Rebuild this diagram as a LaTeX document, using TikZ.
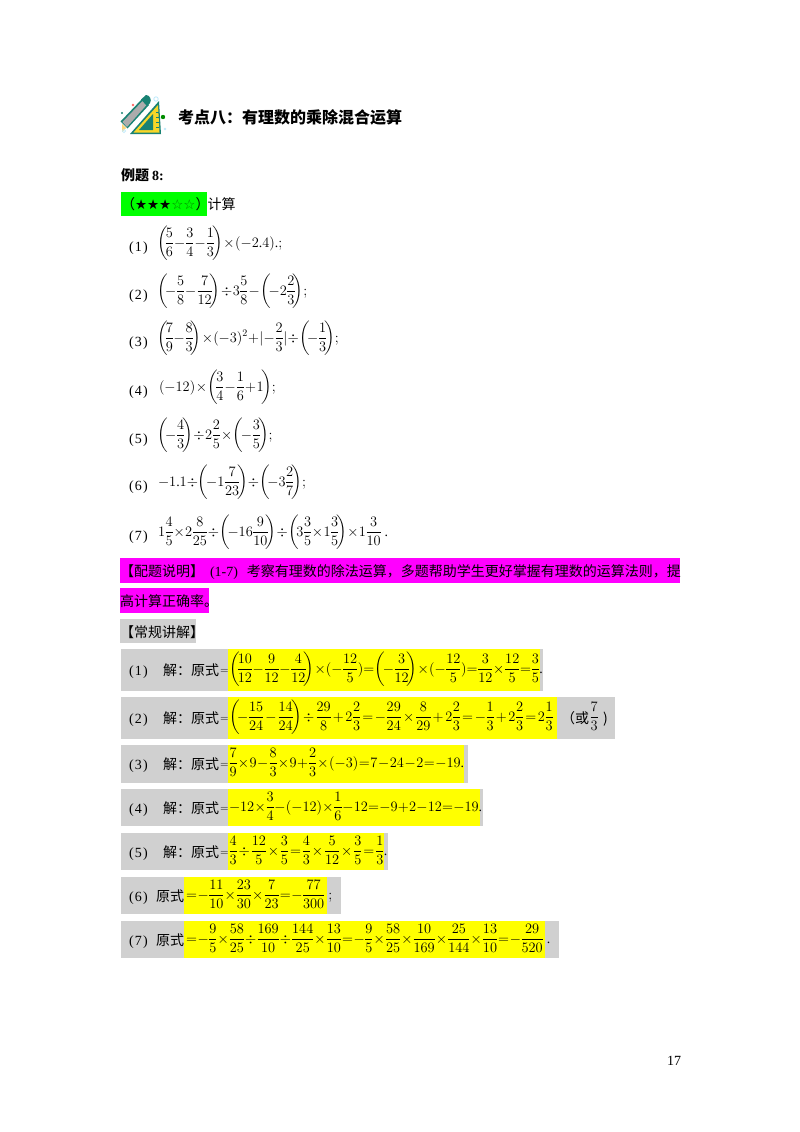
\documentclass[tikz,border=0pt]{standalone}
\usepackage{amsmath}
\usepackage{fontspec}
\setmainfont{Liberation Serif}
\newfontfamily\cjk{Noto Sans CJK SC}
\newfontfamily\djv{DejaVu Sans}
\newcommand{\mathchr}[2]{\begingroup\lccode`~=`#1\lowercase{\endgroup\def~{#2}}\mathcode`#1="8000\relax}
\mathchr{0}{\text{\char48\relax}}
\mathchr{1}{\text{\char49\relax}}
\mathchr{2}{\text{\char50\relax}}
\mathchr{3}{\text{\char51\relax}}
\mathchr{4}{\text{\char52\relax}}
\mathchr{5}{\text{\char53\relax}}
\mathchr{6}{\text{\char54\relax}}
\mathchr{7}{\text{\char55\relax}}
\mathchr{8}{\text{\char56\relax}}
\mathchr{9}{\text{\char57\relax}}
\mathchr{.}{\text{\char46\relax}}
\mathchr{;}{\text{\char59\relax}}
\mathchr{(}{\mathopen{\text{\char40\relax}}}
\mathchr{)}{\mathclose{\text{\char41\relax}}}
\newcommand{\fr}[2]{{\displaystyle\frac{#1}{#2}}}
\newcommand{\lp}{\left(\mkern-3mu}
\newcommand{\rp}{\mkern-3mu\right)}
\newcommand{\mth}[2][0.7mu]{$\displaystyle\nulldelimiterspace=0.6pt\thinmuskip=0mu\medmuskip=#1\thickmuskip=#1 #2$}
\newcommand{\lab}[1]{(\hspace{1.2pt}#1\hspace{1.2pt})}
\newcommand{\fc}{\char"FF1A\relax}
\newcommand{\fk}{\char"FF0C\relax}
\definecolor{greybar}{RGB}{208,208,208}
\definecolor{tealfill}{RGB}{24,130,115}
\definecolor{yellowbar}{RGB}{255,255,0}
\definecolor{magentabar}{RGB}{255,0,255}
\definecolor{greenbar}{RGB}{0,255,0}
\definecolor{yicon}{RGB}{248,214,40}
\tikzset{
  x=1pt,y=-1pt,
  txt/.style={inner sep=0pt,outer sep=0pt,anchor=base west,font=\fontsize{14}{16}\selectfont},
  mathtxt/.style={txt,font=\fontsize{13.8}{16}\selectfont},
  eqsign/.style={txt,font=\fontsize{11}{13}\selectfont},
  cjktxt/.style={txt,font=\fontsize{14}{16}\selectfont\cjk},
}
\begin{document}
\begin{tikzpicture}
\useasboundingbox (0,0) rectangle (800,1132);
\fill[white] (0,0) rectangle (800,1132);
% icon
\fill[tealfill] (130,134) -- (159,101) -- (161,134) -- cycle;
\fill[yicon] (133.5,132.5) -- (158,105) -- (159.5,132.5) -- cycle;
\fill[tealfill] (139,130) -- (153,114) -- (153,130) -- cycle;
\draw[tealfill,line width=0.4pt] (156,112) -- (159,112) (156,117) -- (159,117) (156,122) -- (159,122) (156,127) -- (159,127);
\fill[tealfill] (120.5,121.5) -- (142,99) -- (149,105) -- (127.5,128.5) -- cycle;
\fill[gray!65] (122.5,122) -- (142.5,101) -- (146.5,105) -- (127,127) -- cycle;
\fill[yellow!40!orange!50] (122,124) -- (126,128) -- (122,132) -- cycle;
\fill[tealfill] (141,99.5) -- (146,95) .. controls (150,95) and (152,100) .. (150,103) -- (147,106) -- cycle;
\fill[red!60] (133,105) circle (1.4);
\fill[tealfill] (122,113) circle (1.2);
\fill[green!55!black] (163,117) circle (2.2);
\fill[cyan!25] (165,129) circle (1.3);
\draw[cyan!25,line width=0.8pt] (156,99) circle (2.2) (124,131) circle (1.6);
% title
\node[txt,font=\fontsize{16}{18}\selectfont\cjk\bfseries] (title) at (178,123) {考点八\fc 有理数的乘除混合运算};
\node[txt,font=\fontsize{14}{16}\selectfont\cjk\bfseries] (ex) at (121,180) {例题 {\rmfamily\bfseries 8:}};
% stars
\fill[greenbar] (121,192) rectangle (207,216);
\node[cjktxt] (stars) at (121,209) {（{\djv\fontsize{13.5}{14}\selectfont ★★★{\color{green!50!black}☆☆}}）\hspace{-2pt}计算};
% problems
\node[txt] (p1) at (129,251) {\lab{1}};
\node[mathtxt] (m1) at (157,247) {\mth{\lp\fr{5}{6}-\fr{3}{4}-\fr{1}{3}\rp\times(-2.4)\,.;}};
\node[txt] (p2) at (129,299) {\lab{2}};
\node[mathtxt] (m2) at (157,295) {\mth{\lp-\fr{5}{8}-\fr{7}{12}\rp\div 3\fr{5}{8}-\lp-2\fr{2}{3}\rp;}};
\node[txt] (p3) at (129,346) {\lab{3}};
\node[mathtxt] (m3) at (157,342) {\mth[0.3mu]{\lp\fr{7}{9}-\fr{8}{3}\rp\times(-3)^2+|-\fr{2}{3}|\div\lp-\fr{1}{3}\rp;}};
\node[txt] (p4) at (129,395) {\lab{4}};
\node[mathtxt] (m4) at (159,391) {\mth{(-12)\times\lp\fr{3}{4}-\fr{1}{6}+1\rp\,;}};
\node[txt] (p5) at (129,443) {\lab{5}};
\node[mathtxt] (m5) at (157,439) {\mth{\lp-\fr{4}{3}\rp\div 2\fr{2}{5}\times\lp-\fr{3}{5}\rp\,;}};
\node[txt] (p6) at (129,490) {\lab{6}};
\node[mathtxt] (m6) at (158,486) {\mth[0mu]{-1.1\div\lp-1\fr{7}{23}\rp\div\lp-3\fr{2}{7}\rp;}};
\node[txt] (p7) at (129,540) {\lab{7}};
\node[mathtxt] (m7) at (158,536) {\mth[0.4mu]{1\fr{4}{5}\times 2\fr{8}{25}\div\lp-16\fr{9}{10}\rp\div\lp 3\fr{3}{5}\times 1\fr{3}{5}\rp\times 1\fr{3}{10}\ .}};
% notes
\fill[magentabar] (120,558) rectangle (680,583);
\fill[magentabar] (120,588) rectangle (209,613);
\fill[greybar] (120,619) rectangle (196,643);
\node[cjktxt] (n1) at (120,576) {【配题说明】\hspace{6pt}{\rmfamily(1-7)}\hspace{9pt}考察有理数的除法运算\fk 多题帮助学生更好掌握有理数的运算法则\fk 提};
\node[cjktxt] (n2) at (120,606) {高计算正确率。};
\node[cjktxt] (n3) at (120,637) {【常规讲解】};
% answer boxes
\fill[greybar] (121,649) rectangle (543,691);
\fill[yellowbar] (228,649) rectangle (540,691);
\fill[greybar] (121,697) rectangle (615,739);
\fill[yellowbar] (228,697) rectangle (557,739);
\fill[greybar] (121,745) rectangle (468,783);
\fill[yellowbar] (228,745) rectangle (464,783);
\fill[greybar] (121,789) rectangle (483,826);
\fill[yellowbar] (228,789) rectangle (480,826);
\fill[greybar] (121,833) rectangle (388,870);
\fill[yellowbar] (228,833) rectangle (384,870);
\fill[greybar] (121,877) rectangle (341,914);
\fill[yellowbar] (184,877) rectangle (327,914);
\fill[greybar] (121,921) rectangle (559,958);
\fill[yellowbar] (184,921) rectangle (545,958);
% answers
\node[txt] (a1n) at (129,675) {\lab{1}};
\node[cjktxt] (a1) at (163,675) {解\fc 原式};
\node[eqsign] (a1q) at (220,673) {\mth{=}};
\node[mathtxt] (e1) at (229,673) {\mth[0.2mu]{\lp\fr{10}{12}-\fr{9}{12}-\fr{4}{12}\rp\times(-\fr{12}{5})=\lp-\fr{3}{12}\rp\times(-\fr{12}{5})=\fr{3}{12}\times\fr{12}{5}=\fr{3}{5}\,.}};
\node[txt] (a2n) at (129,723) {\lab{2}};
\node[cjktxt] (a2) at (163,723) {解\fc 原式};
\node[eqsign] (a2q) at (220,721) {\mth{=}};
\node[mathtxt] (e2) at (229,721) {\mth[2mu]{\lp-\fr{15}{24}-\fr{14}{24}\rp\div\fr{29}{8}+2\fr{2}{3}=-\fr{29}{24}\times\fr{8}{29}+2\fr{2}{3}=-\fr{1}{3}+2\fr{2}{3}=2\fr{1}{3}}};
\node[cjktxt] (a2b) at (561,723) {（或};
\node[mathtxt] (a2c) at (590,721) {\mth{\fr{7}{3}}};
\node[cjktxt] (a2d) at (603,723) {)};
\node[txt] (a3n) at (129,769) {\lab{3}};
\node[cjktxt] (a3) at (163,769) {解\fc 原式};
\node[eqsign] (a3q) at (220,767) {\mth{=}};
\node[mathtxt] (e3) at (229,767) {\mth{\fr{7}{9}\times 9-\fr{8}{3}\times 9+\fr{2}{3}\times(-3)=7-24-2=-19\,.}};
\node[txt] (a4n) at (129,813) {\lab{4}};
\node[cjktxt] (a4) at (163,813) {解\fc 原式};
\node[eqsign] (a4q) at (220,811) {\mth{=}};
\node[mathtxt] (e4) at (229,811) {\mth[0.3mu]{-12\times\fr{3}{4}-(-12)\times\fr{1}{6}-12=-9+2-12=-19\,.}};
\node[txt] (a5n) at (129,857) {\lab{5}};
\node[cjktxt] (a5) at (163,857) {解\fc 原式};
\node[eqsign] (a5q) at (220,855) {\mth{=}};
\node[mathtxt] (e5) at (229,855) {\mth[1.7mu]{\fr{4}{3}\div\fr{12}{5}\times\fr{3}{5}=\fr{4}{3}\times\fr{5}{12}\times\fr{3}{5}=\fr{1}{3}\,.}};
\node[txt] (a6n) at (129,901) {\lab{6}};
\node[cjktxt] (a6) at (156,901) {原式};
\node[mathtxt] (e6) at (186,899) {\mth{=-\fr{11}{10}\times\fr{23}{30}\times\fr{7}{23}=-\fr{77}{300}\ ;}};
\node[txt] (a7n) at (129,945) {\lab{7}};
\node[cjktxt] (a7) at (156,945) {原式};
\node[mathtxt] (e7) at (186,943) {\mth{=-\fr{9}{5}\times\fr{58}{25}\div\fr{169}{10}\div\fr{144}{25}\times\fr{13}{10}=-\fr{9}{5}\times\fr{58}{25}\times\fr{10}{169}\times\fr{25}{144}\times\fr{13}{10}=-\fr{29}{520}\ .}};
\node[txt] (pg) at (667,1065) {17};
\end{tikzpicture}
\end{document}
